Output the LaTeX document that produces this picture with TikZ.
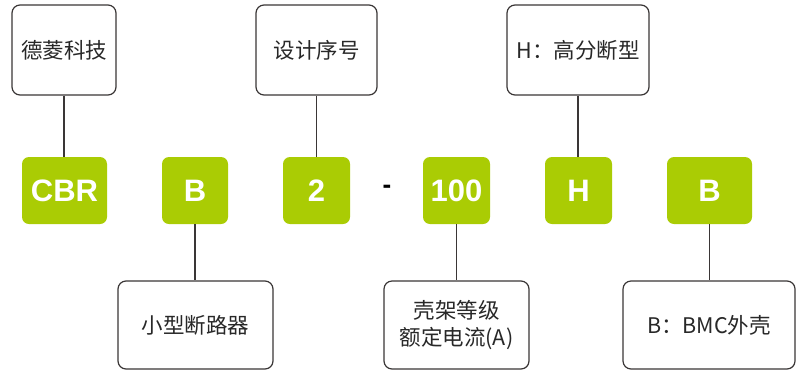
\documentclass[tikz,border=0pt]{standalone}
\usepackage{fontspec}
\setmainfont{Liberation Sans}
\newfontfamily\cjk{Noto Sans CJK SC}
\newfontfamily\arialb{Liberation Sans}
\definecolor{lime}{RGB}{170,204,4}
\definecolor{edge}{RGB}{58,54,54}
\definecolor{txt}{RGB}{40,40,40}
\begin{document}
\begin{tikzpicture}[x=1pt,y=-1pt,
  labelbox/.style={draw=edge,line width=1.2pt,rounded corners=8pt,fill=white,
    inner sep=0pt,font=\cjk\fontsize{21.5}{27}\selectfont,text=txt,align=center},
  codebox/.style={fill=lime,rounded corners=7pt,inner sep=0pt,
    minimum height=67pt,text=white,font=\arialb\bfseries\fontsize{31}{31}\selectfont},
  link/.style={draw=edge,line width=1.3pt}]
\useasboundingbox (0,0) rectangle (799,370);
% top label boxes
\node[labelbox,minimum width=104pt,minimum height=90pt] (t1) at (64,50) {德菱科技};
\node[labelbox,minimum width=121pt,minimum height=90pt] (t2) at (316.5,50) {设计序号};
\node[labelbox,minimum width=142pt,minimum height=90pt] (t3) at (578,50) {H：高分断型};
% code boxes
\node[codebox,minimum width=85pt] (g1) at (64.5,190.5) {CBR};
\node[codebox,minimum width=66pt] (g2) at (195,190.5) {B};
\node[codebox,minimum width=67pt] (g3) at (316.5,190.5) {2};
\node[font=\arialb\bfseries\fontsize{26}{26}\selectfont,text=black] (dash) at (387,189) {-};
\node[codebox,minimum width=67pt] (g4) at (456.5,190.5) {100};
\node[codebox,minimum width=67pt] (g5) at (578.5,190.5) {H};
\node[codebox,minimum width=85pt] (g6) at (709.5,190.5) {B};
% bottom label boxes
\node[labelbox,minimum width=155pt,minimum height=88pt] (b1) at (195.5,325) {小型断路器};
\node[labelbox,minimum width=145pt,minimum height=88pt] (b2) at (456.5,325) {壳架等级\\额定电流(A)};
\node[labelbox,minimum width=172pt,minimum height=88pt] (b3) at (709,325) {B：BMC外壳};
% connectors
\draw[link] (t1.south) -- (t1.south |- g1.north);
\draw[link] (t2.south) -- (t2.south |- g3.north);
\draw[link] (t3.south) -- (t3.south |- g5.north);
\draw[link] (g2.south) -- (g2.south |- b1.north);
\draw[link] (g4.south) -- (g4.south |- b2.north);
\draw[link] (g6.south) -- (g6.south |- b3.north);
\end{tikzpicture}
\end{document}
